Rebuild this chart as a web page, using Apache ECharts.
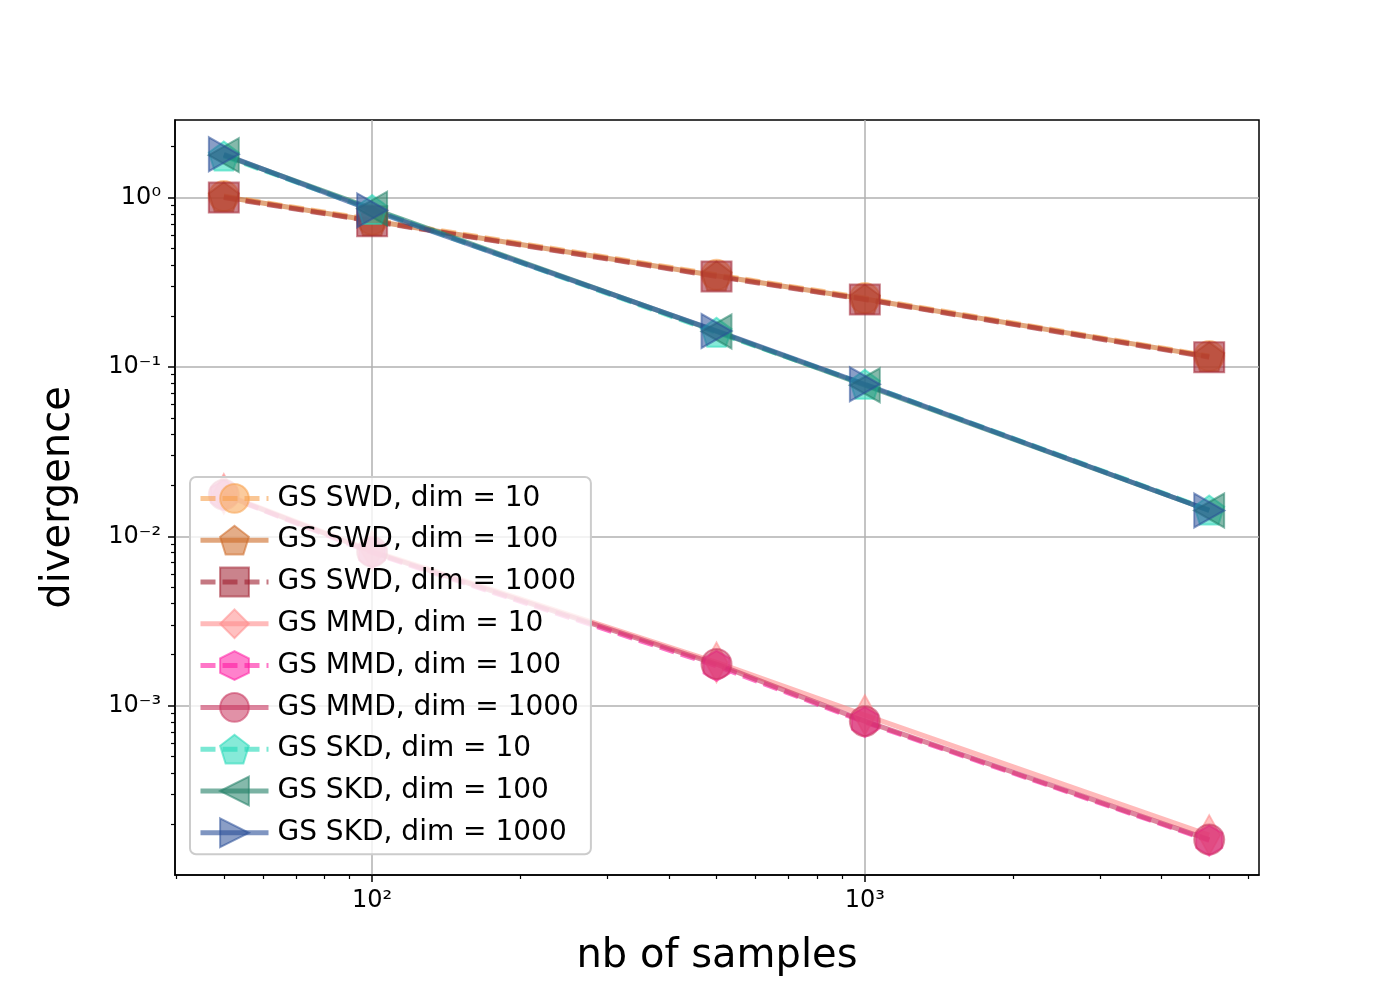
<!DOCTYPE html>
<html style="height: 100%">
  <head>
    <meta charset="utf-8" />
  </head>
  <body style="height: 100%; margin: 0; background: #fff">
    <div id="container" style="width: 1400px; height: 1000px"></div>

    <script
      type="text/javascript"
      src="https://cdn.jsdelivr.net/npm/echarts@6/dist/echarts.min.js"
    ></script>

    <script type="text/javascript">
      var dom = document.getElementById("container");
      var myChart = echarts.init(dom);

      // data
      var samples = [50, 100, 500, 1000, 5000];
      var swd10 = [1.02, 0.74, 0.35, 0.255, 0.116];
      var swd100 = [1.01, 0.73, 0.345, 0.252, 0.115];
      var swd1000 = [1.0, 0.725, 0.342, 0.25, 0.114];
      var mmd10 = [0.0178, 0.0082, 0.0018, 0.00088, 0.000172];
      var mmd100 = [0.0175, 0.008, 0.00172, 0.0008, 0.00016];
      var mmd1000 = [0.0176, 0.0081, 0.00176, 0.00081, 0.000162];
      var skd10 = [1.76, 0.85, 0.16, 0.079, 0.0143];
      var skd100 = [1.78, 0.86, 0.162, 0.078, 0.0142];
      var skd1000 = [1.8, 0.84, 0.163, 0.079, 0.0142];

      var xMajor = [100, 1000];
      var yMajor = [0.001, 0.01, 0.1, 1];
      var xMin = 39.8, xMax = 6310;
      var yMin = 1.0e-4, yMax = 2.87;

      function minorTicks(lo, hi) {
        var out = [];
        for (var e = -5; e <= 5; e++) {
          for (var m = 2; m <= 9; m++) {
            var v = m * Math.pow(10, e);
            if (v >= lo && v <= hi) out.push(v);
          }
        }
        return out;
      }

      var sup = { "0": "\u2070", "1": "\u00b9", "2": "\u00b2", "3": "\u00b3", "4": "\u2074", "-": "\u207b" };
      function powLabel(v) {
        var e = String(Math.round(Math.log10(v)));
        return "10" + e.split("").map(function (c) { return sup[c]; }).join("");
      }

      var pentagon = "path://M0,-1 L0.951,-0.309 L0.588,0.809 L-0.588,0.809 L-0.951,-0.309 Z";
      var hexagon = "path://M0,-1 L0.866,-0.5 L0.866,0.5 L0,1 L-0.866,0.5 L-0.866,-0.5 Z";

      function mk(name, ys, color, dashed, symbol, size, rotate) {
        return {
          name: name,
          type: "line",
          xAxisIndex: 0,
          yAxisIndex: 0,
          data: samples.map(function (x, i) { return [x, ys[i]]; }),
          symbol: symbol,
          symbolSize: size,
          symbolRotate: rotate || 0,
          showAllSymbol: true,
          lineStyle: { color: color, width: 5, opacity: 0.6, type: dashed ? [15, 7] : "solid" },
          itemStyle: { color: color, opacity: 0.55, borderColor: color, borderWidth: 2 },
          emphasis: { disabled: true },
          animation: false
        };
      }

      var series = [
        mk("GS SWD, dim = 10", swd10, "#f7a04d", true, "circle", 30),
        mk("GS SWD, dim = 100", swd100, "#cd6a26", false, pentagon, [30, 29]),
        mk("GS SWD, dim = 1000", swd1000, "#9e1e2e", true, "rect", 30),
        mk("GS MMD, dim = 10", mmd10, "#ff8c8c", false, "diamond", [22, 40]),
        mk("GS MMD, dim = 100", mmd100, "#ff1aa3", true, hexagon, [26, 30]),
        mk("GS MMD, dim = 1000", mmd1000, "#c8365f", false, "circle", 30),
        mk("GS SKD, dim = 10", skd10, "#22d8b8", true, pentagon, [30, 29]),
        mk("GS SKD, dim = 100", skd100, "#217f66", false, "triangle", [34, 30], 90),
        mk("GS SKD, dim = 1000", skd1000, "#2a4f98", false, "triangle", [34, 30], -90)
      ];

      var labelFont = { fontFamily: "DejaVu Sans", fontSize: 24, color: "#000" };

      option = {
        backgroundColor: "#fff",
        animation: false,
        grid: {
          left: 175,
          right: 141,
          top: 120,
          bottom: 125,
          show: true,
          borderColor: "#000",
          borderWidth: 1.5,
          containLabel: false
        },
        legend: {
          orient: "vertical",
          left: 190,
          top: 477,
          itemWidth: 68,
          itemHeight: 36,
          itemGap: 11,
          padding: [6, 12, 6, 8],
          backgroundColor: "rgba(255,255,255,0.8)",
          borderColor: "#cccccc",
          borderWidth: 2,
          borderRadius: 6,
          lineStyle: { width: 5 },
          textStyle: { fontFamily: "DejaVu Sans", fontSize: 28, color: "#000", padding: [0, 0, 0, 4] },
          data: series.map(function (s) { return s.name; })
        },
        xAxis: [
          {
            type: "log",
            min: xMin,
            max: xMax,
            position: "bottom",
            name: "nb of samples",
            nameLocation: "middle",
            nameGap: 62,
            nameTextStyle: { fontFamily: "DejaVu Sans", fontSize: 40, color: "#000" },
            axisLine: { show: true, onZero: false, lineStyle: { color: "#000", width: 1.5 } },
            axisTick: { show: true, customValues: xMajor, length: 7, lineStyle: { color: "#000", width: 1.5 } },
            axisLabel: Object.assign({ customValues: xMajor, margin: 14, formatter: powLabel }, labelFont),
            splitLine: { show: true, lineStyle: { color: "#b0b0b0", width: 1.5 } }
          },
          {
            type: "log",
            min: xMin,
            max: xMax,
            position: "bottom",
            axisLine: { show: false },
            axisTick: { show: true, customValues: minorTicks(xMin, xMax), length: 4, lineStyle: { color: "#000", width: 1.2 } },
            axisLabel: { show: false },
            splitLine: { show: false }
          }
        ],
        yAxis: [
          {
            type: "log",
            min: yMin,
            max: yMax,
            position: "left",
            name: "divergence",
            nameLocation: "middle",
            nameGap: 96,
            nameTextStyle: { fontFamily: "DejaVu Sans", fontSize: 40, color: "#000" },
            axisLine: { show: true, onZero: false, lineStyle: { color: "#000", width: 1.5 } },
            axisTick: { show: true, customValues: yMajor, length: 7, lineStyle: { color: "#000", width: 1.5 } },
            axisLabel: Object.assign({ customValues: yMajor, margin: 14, formatter: powLabel }, labelFont),
            splitLine: { show: true, lineStyle: { color: "#b0b0b0", width: 1.5 } }
          },
          {
            type: "log",
            min: yMin,
            max: yMax,
            position: "left",
            axisLine: { show: false },
            axisTick: { show: true, customValues: minorTicks(yMin, yMax), length: 4, lineStyle: { color: "#000", width: 1.2 } },
            axisLabel: { show: false },
            splitLine: { show: false }
          }
        ],
        series: series
      };

      option && myChart.setOption(option);
    </script>
  </body>
</html>
